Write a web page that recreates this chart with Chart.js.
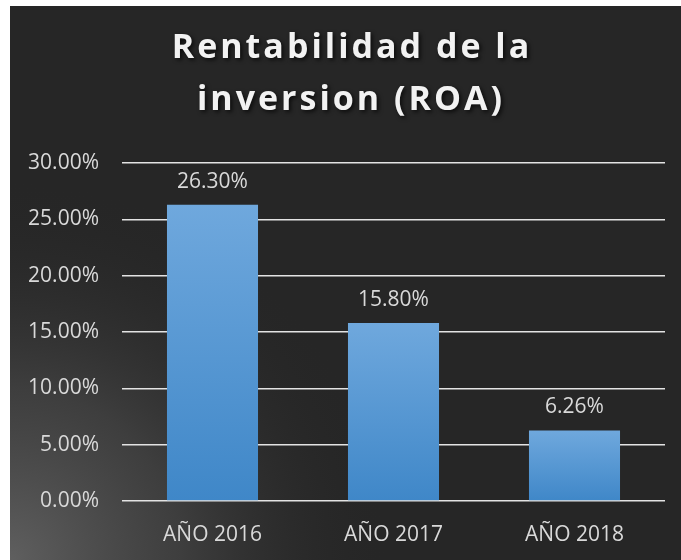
<!DOCTYPE html>
<html lang="es">
<head>
    <meta charset="UTF-8">
    <title>Rentabilidad de la inversion (ROA)</title>
    <script src="https://cdn.jsdelivr.net/npm/chart.js@4.4.1/dist/chart.umd.min.js"></script>
    <style>
        html, body { margin: 0; padding: 0; background: #ffffff; }
        #roaChart { display: block; }
    </style>
</head>
<body>
    <canvas id="roaChart" width="681" height="560"></canvas>
    <script>
    // datos
    var years = ["AÑO 2016", "AÑO 2017", "AÑO 2018"];
    var roa = [0.263, 0.158, 0.0626];
    var titleLines = ["Rentabilidad de la", "inversion (ROA)"];
    var yTicks = [0, 0.05, 0.10, 0.15, 0.20, 0.25, 0.30];

    var textColor = '#d9d9d9';

    function pct(v) {
        return (v * 100).toFixed(2) + '%';
    }

    // fondo oscuro con brillo abajo a la izquierda
    var backgroundPlugin = {
        id: 'darkBackground',
        beforeDraw: function(chart) {
            var ctx = chart.ctx;
            ctx.save();
            ctx.fillStyle = '#ffffff';
            ctx.fillRect(0, 0, chart.width, chart.height);
            ctx.fillStyle = '#262626';
            ctx.fillRect(10, 6, chart.width - 10, chart.height - 6);
            var g = ctx.createRadialGradient(10, chart.height, 0, 10, chart.height, 380);
            g.addColorStop(0, 'rgba(95,95,95,1)');
            g.addColorStop(0.45, 'rgba(70,70,70,0.75)');
            g.addColorStop(1, 'rgba(38,38,38,0)');
            ctx.fillStyle = g;
            ctx.fillRect(10, 6, chart.width - 10, chart.height - 6);
            ctx.restore();
        }
    };

    // titulo con espaciado entre letras
    var titlePlugin = {
        id: 'spacedTitle',
        afterDraw: function(chart) {
            var ctx = chart.ctx;
            ctx.save();
            ctx.font = 'bold 34px "Open Sans"';
            ctx.letterSpacing = '3px';
            ctx.textAlign = 'center';
            ctx.textBaseline = 'alphabetic';
            ctx.fillStyle = '#f2f2f2';
            ctx.shadowColor = 'rgba(0,0,0,0.7)';
            ctx.shadowBlur = 4;
            ctx.shadowOffsetX = 2;
            ctx.shadowOffsetY = 2;
            ctx.fillText(titleLines[0], 352, 58);
            ctx.fillText(titleLines[1], 351, 110);
            ctx.restore();
        }
    };

    // etiquetas de valor encima de cada barra
    var labelPlugin = {
        id: 'valueLabels',
        afterDatasetsDraw: function(chart) {
            var ctx = chart.ctx;
            var meta = chart.getDatasetMeta(0);
            ctx.save();
            ctx.font = '21px "Open Sans"';
            ctx.fillStyle = textColor;
            ctx.textAlign = 'center';
            ctx.textBaseline = 'middle';
            meta.data.forEach(function(bar, i) {
                ctx.fillText(pct(roa[i]), bar.x, bar.y - 23);
            });
            ctx.restore();
        }
    };

    function barGradient(context) {
        var chart = context.chart;
        var yScale = chart.scales.y;
        if (!chart.chartArea || context.raw === undefined) {
            return '#5b9bd5';
        }
        var top = yScale.getPixelForValue(context.raw);
        var bottom = yScale.getPixelForValue(0);
        var g = chart.ctx.createLinearGradient(0, top, 0, bottom);
        g.addColorStop(0, '#6fa8dd');
        g.addColorStop(1, '#3f87c8');
        return g;
    }

    var ctx = document.getElementById("roaChart").getContext('2d');
    var roaChart = new Chart(ctx, {
        type: 'bar',
        data: {
            labels: years,
            datasets: [{
                label: 'ROA',
                data: roa,
                backgroundColor: barGradient,
                borderWidth: 0,
                categoryPercentage: 1,
                barPercentage: 0.503
            }]
        },
        plugins: [backgroundPlugin, labelPlugin, titlePlugin],
        options: {
            responsive: false,
            animation: false,
            layout: {
                padding: { top: 163, left: 10, right: 16, bottom: 0 }
            },
            plugins: {
                legend: { display: false },
                tooltip: { enabled: false },
                title: { display: false }
            },
            scales: {
                x: {
                    grid: { display: false, drawTicks: false },
                    border: { display: false },
                    ticks: {
                        color: textColor,
                        font: { family: 'Open Sans', size: 21 },
                        padding: 21
                    },
                    afterFit: function(scale) { scale.height = 59; }
                },
                y: {
                    min: 0,
                    max: 0.30,
                    afterBuildTicks: function(scale) {
                        scale.ticks = yTicks.map(function(v) { return { value: v }; });
                    },
                    grid: {
                        color: '#e3e3e3',
                        lineWidth: 1.6,
                        drawTicks: false
                    },
                    border: { display: false },
                    ticks: {
                        color: textColor,
                        font: { family: 'Open Sans', size: 21 },
                        padding: 23,
                        callback: function(v) { return pct(v); }
                    },
                    afterFit: function(scale) { scale.width = 112; }
                }
            }
        }
    });
    </script>
</body>
</html>
